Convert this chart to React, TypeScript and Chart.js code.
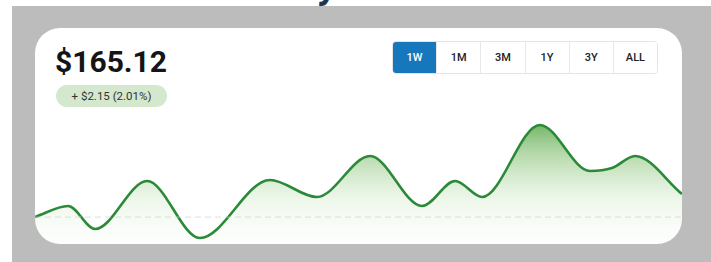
import React, { useEffect, useRef } from "react";
import { Chart, registerables } from "chart.js";

Chart.register(...registerables);

const hours = [0, 8.6, 15.6, 29.1, 42.8, 61.0, 73.2, 87.0, 100.5, 109.1, 116.1, 131.1, 144.1, 149.8, 155.8, 168];
const prices = [162.97, 164.0, 161.85, 166.33, 161.01, 166.43, 164.84, 168.67, 164.0, 166.33, 164.84, 171.57, 167.27, 167.55, 168.67, 165.12];
const previousClose = 162.97;
const ranges = ["1W", "1M", "3M", "1Y", "3Y", "ALL"];
const activeRange = "1W";
const priceLabel = "$165.12";
const changeLabel = "+ $2.15 (2.01%)";

const FONT = "Roboto, 'Noto Sans', Arial, sans-serif";

function PriceChart() {
  const ref = useRef<HTMLCanvasElement | null>(null);
  useEffect(() => {
    if (!ref.current) return;
    const chart = new Chart(ref.current, {
      type: "line",
      data: {
        datasets: [
          {
            data: hours.map((h, i) => ({ x: h, y: prices[i] })),
            borderColor: "#2a8a38",
            borderWidth: 2.6,
            pointRadius: 0,
            cubicInterpolationMode: "monotone",
            fill: "start",
            backgroundColor: (ctx: any) => {
              const area = ctx.chart.chartArea;
              if (!area) return "rgba(80,160,60,0.3)";
              const g = ctx.chart.ctx.createLinearGradient(0, area.top, 0, area.bottom);
              g.addColorStop(0, "rgba(60,150,45,0.9)");
              g.addColorStop(0.3, "rgba(95,172,75,0.5)");
              g.addColorStop(0.65, "rgba(150,205,130,0.18)");
              g.addColorStop(1, "rgba(210,235,205,0.04)");
              return g;
            },
            order: 1,
          },
          {
            data: [
              { x: hours[0], y: previousClose },
              { x: hours[hours.length - 1], y: previousClose },
            ],
            borderColor: "rgba(205,205,205,0.55)",
            borderWidth: 1.2,
            borderDash: [6, 4],
            pointRadius: 0,
            fill: false,
            order: 0,
          },
        ],
      },
      options: {
        animation: false,
        responsive: false,
        layout: { padding: 0 },
        plugins: { legend: { display: false }, tooltip: { enabled: false } },
        scales: {
          x: { type: "linear", min: 0, max: 168, display: false },
          y: { min: 160.45, max: 172.97, display: false },
        },
      },
    });
    return () => chart.destroy();
  }, []);
  return <canvas ref={ref} width={647} height={134} style={{ position: "absolute", left: 0, top: 82, width: 647, height: 134 }} />;
}

export default function App() {
  return (
    <div style={{ position: "fixed", left: 0, top: 0, width: 711, height: 262, background: "#ffffff", overflow: "hidden", fontFamily: FONT }}>
      <div style={{ position: "absolute", left: 320, top: -34, fontSize: 38, fontWeight: 700, fontStyle: "italic", color: "#1f3551", lineHeight: "38px" }}>y</div>
      <div style={{ position: "absolute", left: 12, top: 6, width: 699, height: 256, background: "#bcbcbc" }} />
      <div style={{ position: "absolute", left: 35, top: 28, width: 647, height: 216, background: "#ffffff", borderRadius: 25, overflow: "hidden" }}>
        <div style={{ position: "absolute", left: 20, top: 19, fontSize: 30, lineHeight: "30px", fontWeight: 700, color: "#151515" }}>{priceLabel}</div>
        <div style={{ position: "absolute", left: 21, top: 57, width: 111, height: 22, borderRadius: 11, background: "#d4e8ce", color: "#333333", fontSize: 11.5, lineHeight: "22px", textAlign: "center" }}>{changeLabel}</div>
        <div style={{ position: "absolute", left: 357, top: 13, width: 266, height: 33, display: "flex", borderRadius: 4, border: "1px solid #e4e4e4", boxSizing: "border-box", overflow: "hidden" }}>
          {ranges.map((r, i) => (
            <div key={r} style={{ flex: 1, display: "flex", alignItems: "center", justifyContent: "center", fontSize: 11, fontWeight: 500, background: r === activeRange ? "#1777bd" : "#ffffff", color: r === activeRange ? "#ffffff" : "#222222", borderLeft: i === 0 ? "none" : "1px solid #e8e8e8" }}>{r}</div>
          ))}
        </div>
        <PriceChart />
      </div>
    </div>
  );
}
